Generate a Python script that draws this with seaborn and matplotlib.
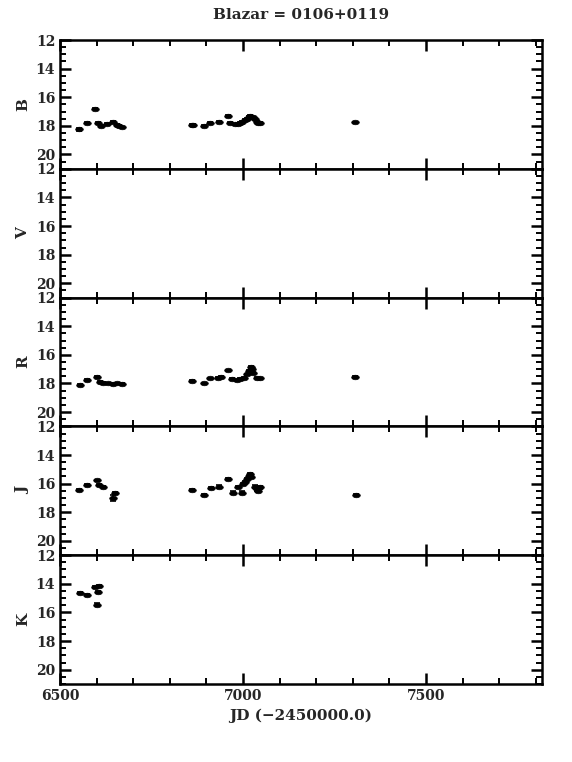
import numpy as np
import pandas as pd
import seaborn as sns
import matplotlib.pyplot as plt
from matplotlib.ticker import MultipleLocator

bands = ["B", "V", "R", "J", "K"]

b_jd = [6553, 6573, 6596, 6605, 6611, 6627, 6644, 6655, 6661, 6668,
        6860, 6864, 6894, 6910, 6934, 6960, 6964, 6978, 6986, 6992, 6998,
        7005, 7011, 7016, 7019, 7023, 7028, 7033, 7037, 7042, 7046, 7306]
b_mag = [18.25, 17.78, 16.8, 17.8, 18.0, 17.85, 17.7, 17.95, 18.0, 18.1,
         17.95, 17.95, 18.0, 17.78, 17.7, 17.3, 17.78, 17.9, 17.85, 17.78, 17.7,
         17.6, 17.5, 17.35, 17.3, 17.35, 17.4, 17.55, 17.7, 17.8, 17.78, 17.75]
b_err = [0.1, 0.05, 0.05, 0.05, 0.05, 0.05, 0.05, 0.05, 0.05, 0.05,
         0.05, 0.05, 0.08, 0.05, 0.05, 0.05, 0.05, 0.05, 0.05, 0.05, 0.05,
         0.05, 0.05, 0.05, 0.05, 0.05, 0.05, 0.05, 0.05, 0.08, 0.05, 0.05]

v_jd = []
v_mag = []
v_err = []

r_jd = [6555, 6573, 6600, 6609, 6618, 6632, 6646, 6655, 6668,
        6860, 6894, 6910, 6932, 6940, 6960, 6969, 6983, 6992, 7003,
        7010, 7016, 7021, 7025, 7028, 7037, 7046, 7306]
r_mag = [18.13, 17.75, 17.52, 17.87, 17.94, 18.0, 18.05, 18.0, 18.05,
         17.83, 18.0, 17.64, 17.6, 17.55, 17.08, 17.7, 17.78, 17.7, 17.6,
         17.36, 17.1, 16.84, 17.0, 17.24, 17.6, 17.64, 17.54]
r_err = [0.06, 0.05, 0.05, 0.05, 0.05, 0.05, 0.05, 0.05, 0.05,
         0.05, 0.06, 0.05, 0.05, 0.05, 0.05, 0.05, 0.05, 0.05, 0.05,
         0.05, 0.05, 0.05, 0.05, 0.05, 0.05, 0.05, 0.05]

j_jd = [6553, 6573, 6600, 6607, 6618, 6646, 6650,
        6861, 6894, 6912, 6934, 6960, 6972, 6987, 6996, 6999, 7006,
        7010, 7015, 7019, 7023, 7033, 7038, 7042, 7046, 7309]
j_mag = [16.44, 16.07, 15.77, 16.07, 16.21, 17.0, 16.65,
         16.44, 16.79, 16.3, 16.21, 15.67, 16.65, 16.21, 16.65, 16.02, 15.9,
         15.67, 15.5, 15.31, 15.55, 16.21, 16.4, 16.49, 16.26, 16.77]
j_err = [0.08, 0.05, 0.05, 0.05, 0.05, 0.2, 0.08,
         0.05, 0.1, 0.05, 0.08, 0.05, 0.1, 0.05, 0.1, 0.05, 0.05,
         0.05, 0.05, 0.05, 0.05, 0.1, 0.1, 0.1, 0.1, 0.05]

k_jd = [6555, 6573, 6596, 6605, 6607, 6602]
k_mag = [14.62, 14.79, 14.22, 14.57, 14.12, 15.46]
k_err = [0.07, 0.07, 0.07, 0.08, 0.05, 0.12]

frames = []
for band, jd, mag, err in [("B", b_jd, b_mag, b_err), ("V", v_jd, v_mag, v_err),
                           ("R", r_jd, r_mag, r_err), ("J", j_jd, j_mag, j_err),
                           ("K", k_jd, k_mag, k_err)]:
    frames.append(pd.DataFrame({"band": band, "jd": jd, "mag": mag, "err": err}))
df = pd.concat(frames, ignore_index=True)

sns.set_theme(style="ticks")
plt.rcParams["font.family"] = ["DejaVu Serif"]
plt.rcParams["font.weight"] = "bold"

# wide ellipse marker, like the original symbols
t = np.linspace(0, 2 * np.pi, 40)
ellipse = np.column_stack([np.cos(t), 0.6 * np.sin(t)])

fig, axes = plt.subplots(5, 1, figsize=(5.72, 7.62), dpi=100, sharex=True)
fig.subplots_adjust(left=0.105, right=0.9476, top=0.9475, bottom=0.1024, hspace=0)

for ax, band in zip(axes, bands):
    sub = df[df["band"] == band]
    if len(sub):
        ax.errorbar(sub["jd"], sub["mag"], yerr=sub["err"], fmt="none",
                    ecolor="black", elinewidth=1.2, capsize=2.5, capthick=1.2)
        sns.scatterplot(data=sub, x="jd", y="mag", ax=ax, color="black",
                        marker=ellipse, s=30, edgecolor="black", linewidth=0.5)
    ax.set_xlim(6500, 7817)
    ax.set_ylim(21, 12)
    ax.set_yticks([12, 14, 16, 18, 20])
    ax.yaxis.set_minor_locator(MultipleLocator(0.5))
    ax.xaxis.set_major_locator(MultipleLocator(500))
    ax.xaxis.set_minor_locator(MultipleLocator(100))
    ax.tick_params(which="both", direction="in", top=True, right=True,
                   labelsize=10, color="black")
    ax.tick_params(which="major", length=8, width=1.8)
    ax.tick_params(which="minor", length=4, width=1.4)
    for sp in ax.spines.values():
        sp.set_linewidth(1.8)
        sp.set_color("black")
    ax.set_ylabel(band, fontsize=11, fontweight="bold", labelpad=4)
    ax.set_xlabel("")
    for lab in ax.get_yticklabels():
        lab.set_fontweight("bold")

axes[-1].set_xlabel("JD (\u22122450000.0)", fontsize=11, fontweight="bold")
for lab in axes[-1].get_xticklabels():
    lab.set_fontweight("bold")
fig.suptitle("Blazar = 0106+0119", x=0.526, y=0.99, fontsize=11, fontweight="bold")

plt.savefig("out.png", dpi=100)
